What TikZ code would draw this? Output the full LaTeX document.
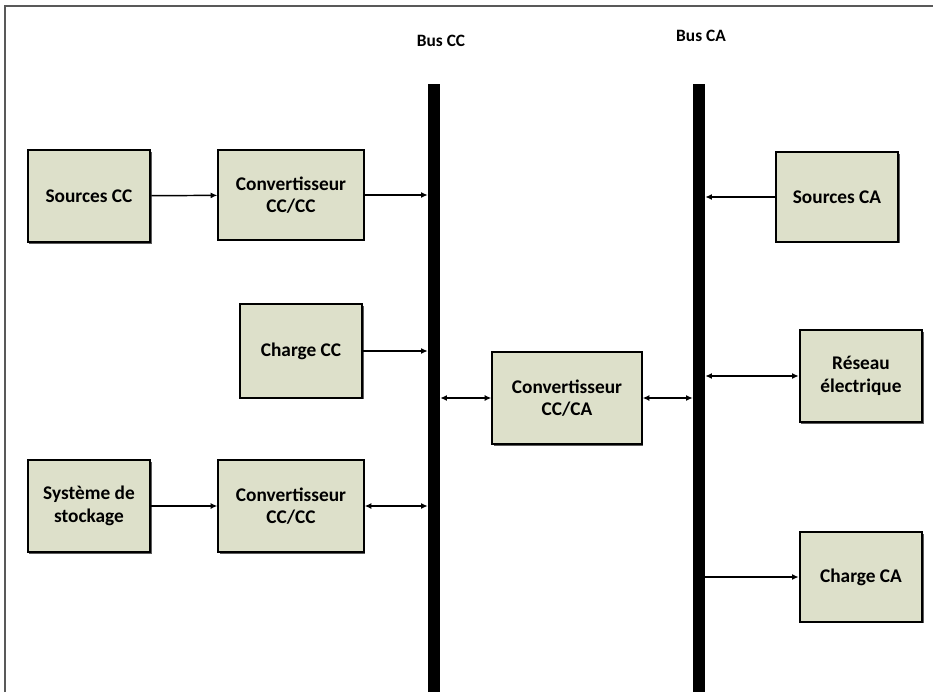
\documentclass[tikz,border=0pt]{standalone}
\usepackage{fontspec}
\setmainfont{Carlito}
\usetikzlibrary{positioning,calc,arrows.meta,shadows}
\definecolor{boxfill}{RGB}{221,224,202}
\tikzset{
  bloc/.style={draw=black, line width=1.5pt, fill=boxfill, inner sep=0pt,
    align=center, font=\fontsize{14.5}{17}\selectfont\bfseries,
    drop shadow={shadow xshift=1.2pt, shadow yshift=-1.2pt, fill=black!80, opacity=0.8}},
  bus/.style={fill=black, draw=none, minimum width=9pt, minimum height=456pt, inner sep=0pt},
  fleche/.style={line width=1.1pt, -{Latex[length=5pt,width=4.5pt]}},
  dfleche/.style={line width=1.1pt, {Latex[length=5pt,width=4.5pt]}-{Latex[length=5pt,width=4.5pt]}}
}
\begin{document}
\begin{tikzpicture}[x=0.75pt,y=-0.75pt]
  \useasboundingbox (0,0) rectangle (934,692);
  \draw[gray!70!black, line width=0.8pt] (5,692) -- (5,6) -- (933,6);
  \node[bus] (busCC) at (434,388) {};
  \node[bus] (busCA) at (699,388) {};
  \node[font=\fontsize{13}{15}\selectfont\bfseries] (lblCC) at (441,41) {Bus CC};
  \node[font=\fontsize{13}{15}\selectfont\bfseries] (lblCA) at (701,36) {Bus CA};
  \node[bloc, minimum width=92pt, minimum height=69pt] (srcCC) at (89,196) {Sources CC};
  \node[bloc, minimum width=109pt, minimum height=67pt] (convA) at (291,195) {Convertisseur\\CC/CC};
  \node[bloc, minimum width=92pt, minimum height=70pt] (chCC) at (301,351) {Charge CC};
  \node[bloc, minimum width=112pt, minimum height=69pt] (convCA) at (567,398) {Convertisseur\\CC/CA};
  \node[bloc, minimum width=92pt, minimum height=69pt] (stock) at (89,506) {Système de\\stockage};
  \node[bloc, minimum width=109pt, minimum height=69pt] (convB) at (291,506) {Convertisseur\\CC/CC};
  \node[bloc, minimum width=92pt, minimum height=67pt] (srcCA) at (837,197) {Sources CA};
  \node[bloc, minimum width=92pt, minimum height=69pt] (reseau) at (861,376) {Réseau\\électrique};
  \node[bloc, minimum width=92pt, minimum height=67pt] (chCA) at (861,577) {Charge CA};
  \draw[fleche] (srcCC) -- (convA);
  \draw[fleche] (convA.east) -- (convA.east -| busCC.west);
  \draw[fleche] (chCC.east) -- (chCC.east -| busCC.west);
  \draw[dfleche] (busCC.east |- convCA.west) -- (convCA.west);
  \draw[dfleche] (convCA.east) -- (convCA.east -| busCA.west);
  \draw[fleche] (stock) -- (convB);
  \draw[dfleche] (convB.east) -- (convB.east -| busCC.west);
  \draw[fleche] (srcCA.west) -- (srcCA.west -| busCA.east);
  \draw[dfleche] (busCA.east |- reseau.west) -- (reseau.west);
  \draw[fleche] (busCA.east |- chCA.west) -- (chCA.west);
\end{tikzpicture}
\end{document}
